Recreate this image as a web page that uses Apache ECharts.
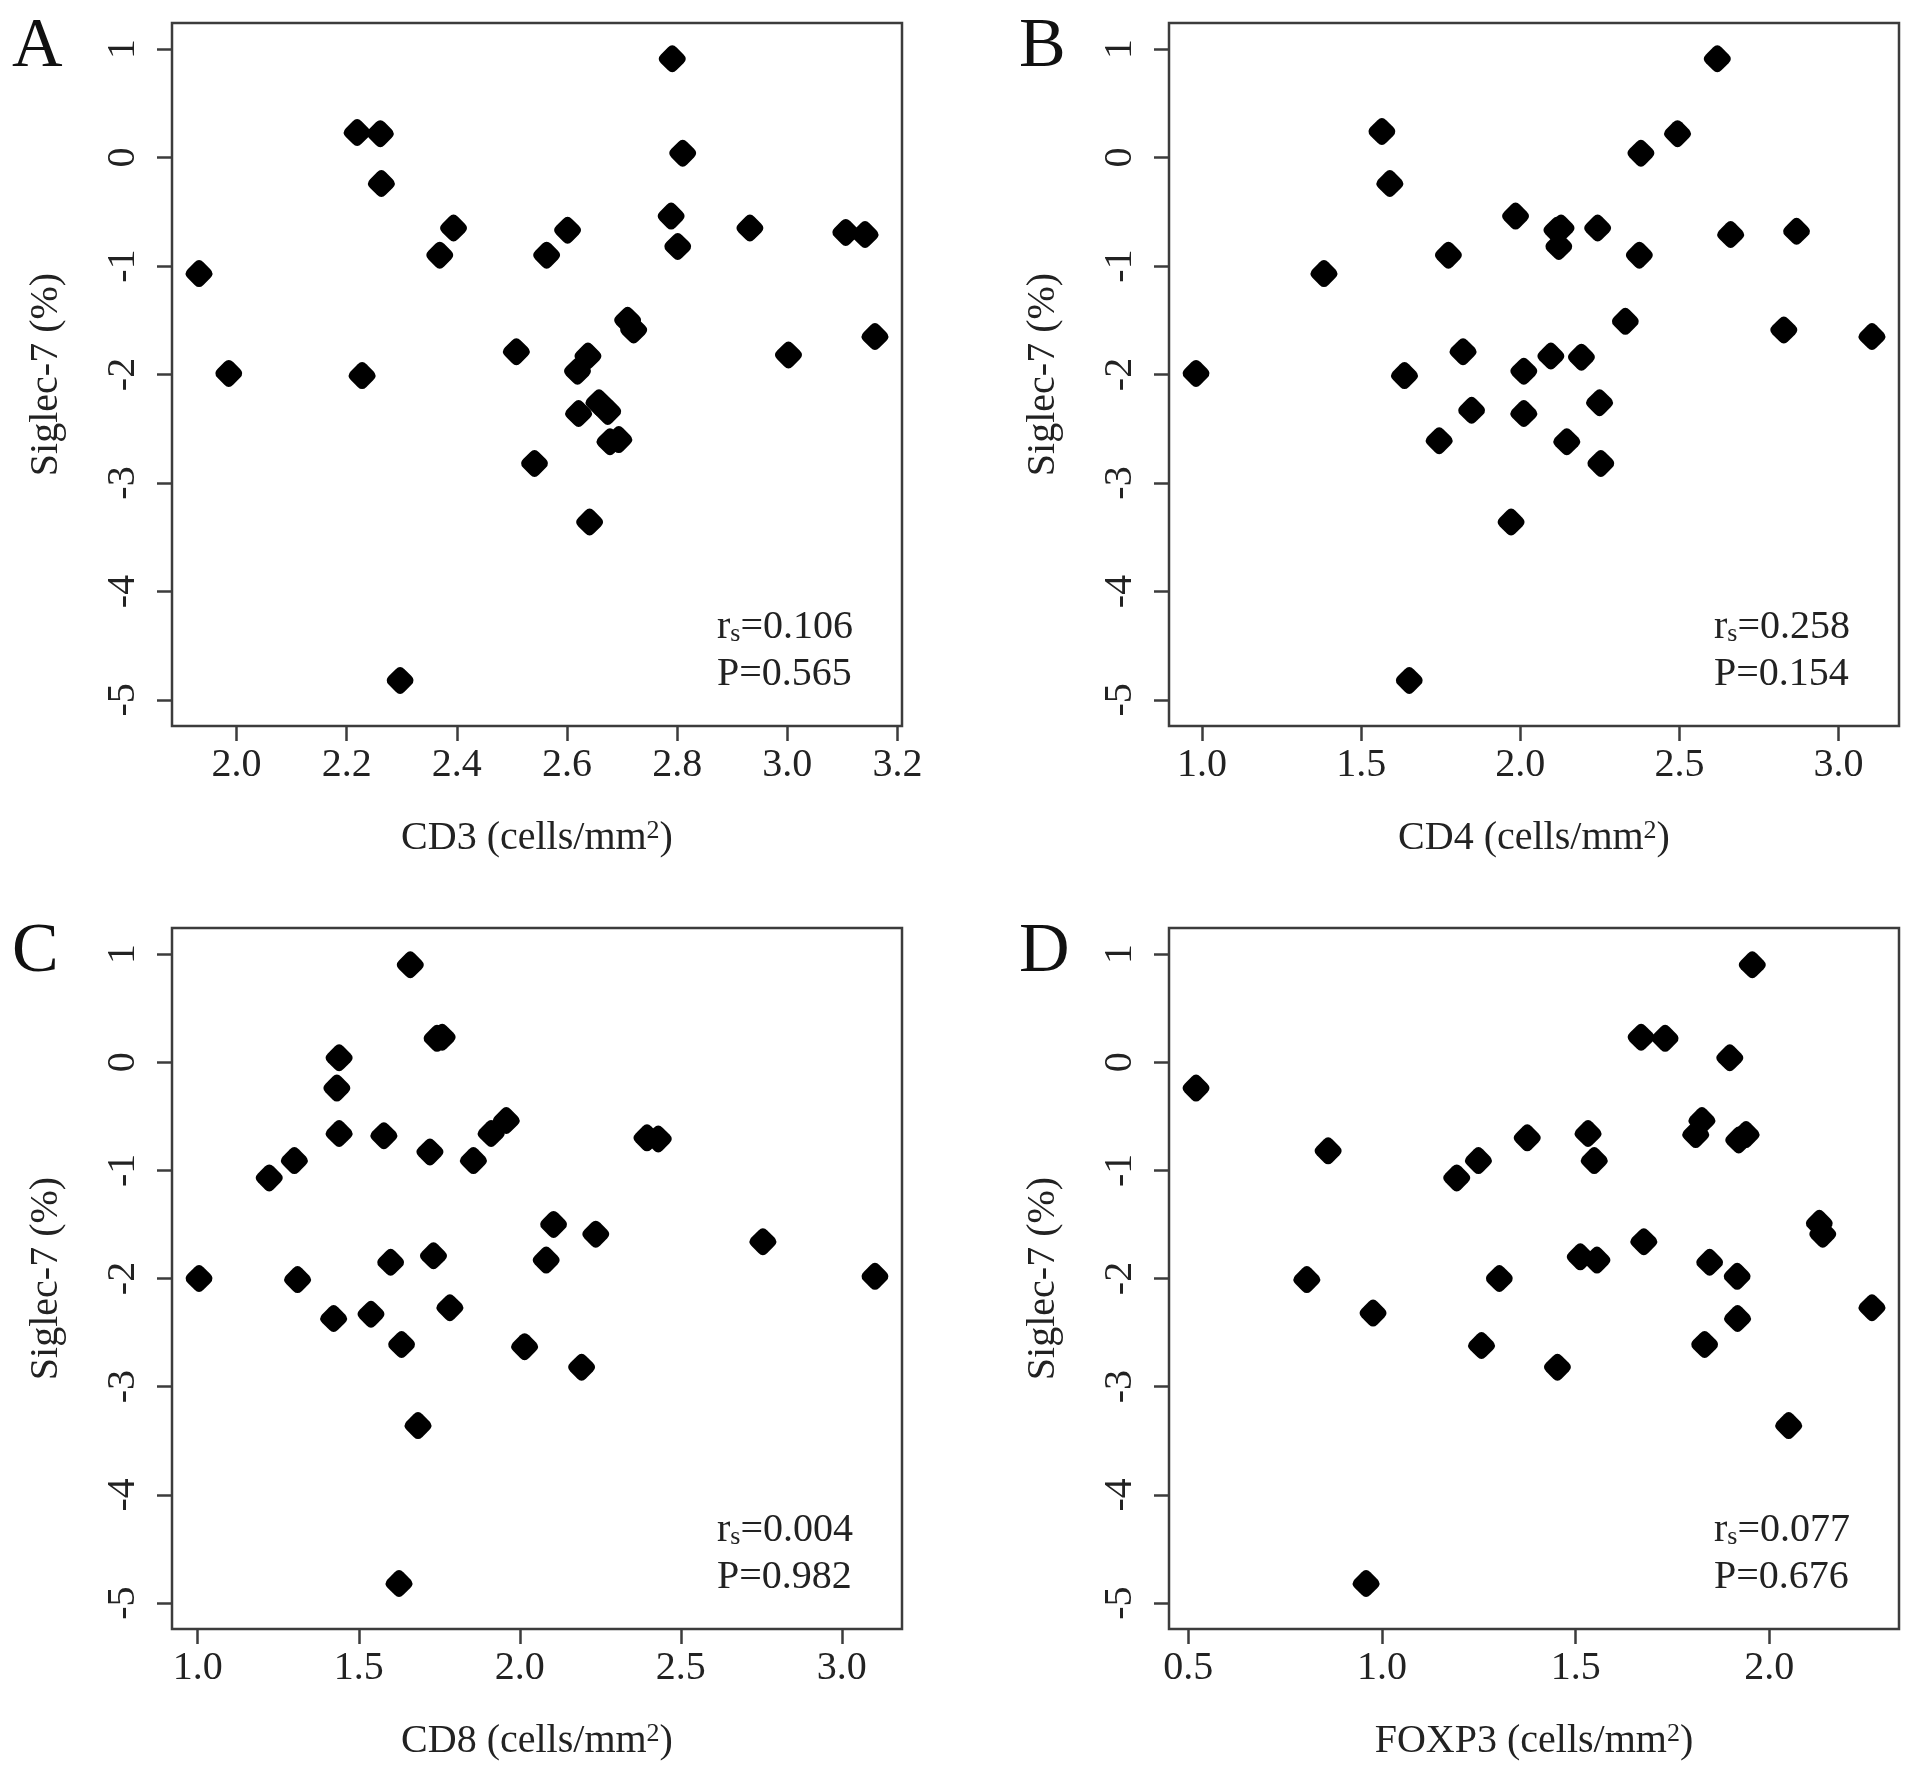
<!DOCTYPE html>
<html>
<head>
<meta charset="utf-8">
<script src="https://cdn.jsdelivr.net/npm/echarts@6/dist/echarts.min.js"></script>
<style>
  html, body { margin: 0; padding: 0; background: #fff; }
  #chart { width: 1913px; height: 1774px; }
</style>
</head>
<body>
<div id="chart"></div>
<script>
// panel A: CD3
var cd3X = [1.932, 1.986, 2.219, 2.261, 2.263, 2.228, 2.297, 2.369, 2.394, 2.508, 2.541, 2.563, 2.601, 2.619, 2.638, 2.621,
            2.641, 2.658, 2.674, 2.678, 2.694, 2.710, 2.721, 2.791, 2.810, 2.789, 2.801, 2.932, 3.002, 3.106, 3.141, 3.159];
var cd3Y = [-1.07, -1.99, 0.23, 0.22, -0.24, -2.01, -4.82, -0.90, -0.65, -1.79, -2.82, -0.90, -0.67, -1.97, -1.83, -2.36,
            -3.36, -2.26, -2.34, -2.62, -2.60, -1.50, -1.59, 0.91, 0.04, -0.54, -0.82, -0.65, -1.82, -0.69, -0.71, -1.65];
// panel B: CD4
var cd4X = [0.981, 1.383, 1.565, 1.590, 1.636, 1.651, 1.745, 1.774, 1.820, 1.847, 1.971, 1.985, 2.011, 2.011, 2.096, 2.115,
            2.128, 2.121, 2.146, 2.192, 2.243, 2.249, 2.253, 2.330, 2.374, 2.379, 2.494, 2.619, 2.661, 2.828, 2.868, 3.105];
var cd4Y = [-1.99, -1.07, 0.24, -0.24, -2.01, -4.82, -2.61, -0.90, -1.79, -2.33, -3.36, -0.54, -1.97, -2.36, -1.83, -0.67,
            -0.65, -0.82, -2.62, -1.84, -0.65, -2.26, -2.82, -1.51, -0.90, 0.04, 0.22, 0.91, -0.71, -1.59, -0.68, -1.65];
// panel C: CD8
var cd8X = [1.004, 1.222, 1.300, 1.310, 1.422, 1.432, 1.439, 1.439, 1.538, 1.578, 1.599, 1.633, 1.625, 1.660, 1.684, 1.721,
            1.732, 1.743, 1.759, 1.783, 1.856, 1.911, 1.958, 2.015, 2.082, 2.105, 2.192, 2.236, 2.395, 2.430, 2.755, 3.103];
var cd8Y = [-2.00, -1.07, -0.91, -2.01, -2.37, -0.24, 0.04, -0.66, -2.33, -0.68, -1.85, -2.61, -4.82, 0.90, -3.36, -0.83,
            -1.79, 0.22, 0.23, -2.27, -0.91, -0.66, -0.54, -2.63, -1.83, -1.50, -2.82, -1.59, -0.70, -0.71, -1.66, -1.98];
// panel D: FOXP3
var foxp3X = [0.520, 0.806, 0.861, 0.977, 0.959, 1.193, 1.249, 1.257, 1.303, 1.375, 1.453, 1.512, 1.532, 1.548, 1.555, 1.669,
              1.676, 1.731, 1.810, 1.826, 1.833, 1.846, 1.898, 1.917, 1.918, 1.921, 1.940, 1.956, 2.050, 2.129, 2.138, 2.265];
var foxp3Y = [-0.24, -2.01, -0.82, -2.32, -4.82, -1.07, -0.91, -2.62, -2.00, -0.70, -2.82, -1.80, -0.66, -0.91, -1.83, 0.23,
              -1.66, 0.22, -0.67, -0.54, -2.61, -1.85, 0.04, -1.98, -2.37, -0.72, -0.67, 0.90, -3.36, -1.49, -1.59, -2.27];

var cd3Ticks = [2.0, 2.2, 2.4, 2.6, 2.8, 3.0, 3.2];
var cd4Ticks = [1.0, 1.5, 2.0, 2.5, 3.0];
var cd8Ticks = [1.0, 1.5, 2.0, 2.5, 3.0];
var foxp3Ticks = [0.5, 1.0, 1.5, 2.0];
var yTicks = [-5, -4, -3, -2, -1, 0, 1];

var panelLetters = ['A', 'B', 'C', 'D'];
var xTitles = ['CD3', 'CD4', 'CD8', 'FOXP3'];
var rsValues = ['0.106', '0.258', '0.004', '0.077'];
var pValues = ['0.565', '0.154', '0.982', '0.676'];

var chart = echarts.init(document.getElementById('chart'));
var FONT = '"Liberation Serif", "Times New Roman", serif';
var INK = '#222';
var LINE = '#3c3c3c';
// filled diamond with soft corners, like R pch 18 after scanning
var diamond = 'path://M36,14 Q50,0 64,14 L86,36 Q100,50 86,64 L64,86 Q50,100 36,86 L14,64 Q0,50 14,36 Z';

var panels = [
    {x: cd3X, y: cd3Y, ticks: cd3Ticks, left: 172, top: 23, height: 703, letterX: 12},
    {x: cd4X, y: cd4Y, ticks: cd4Ticks, left: 1169, top: 23, height: 703, letterX: 1019},
    {x: cd8X, y: cd8Y, ticks: cd8Ticks, left: 172, top: 928, height: 701, letterX: 12},
    {x: foxp3X, y: foxp3Y, ticks: foxp3Ticks, left: 1169, top: 928, height: 701, letterX: 1019}
];
var W = 730;

var grids = [], xAxes = [], yAxes = [], series = [], graphics = [];

panels.forEach(function (p, i) {
    var lo = Math.min.apply(null, p.x), hi = Math.max.apply(null, p.x);
    var pad = (hi - lo) * 0.04;
    grids.push({
        left: p.left, top: p.top, width: W, height: p.height,
        show: true, borderColor: LINE, borderWidth: 2.5, backgroundColor: 'transparent'
    });
    xAxes.push({
        type: 'value', gridIndex: i, min: lo - pad, max: hi + pad, position: 'bottom',
        axisLine: {show: false, onZero: false},
        splitLine: {show: false},
        axisTick: {show: true, length: 15, customValues: p.ticks, lineStyle: {color: LINE, width: 2.5}},
        axisLabel: {
            customValues: p.ticks, margin: 19, fontSize: 40, fontFamily: FONT, color: INK,
            formatter: function (v) { return v.toFixed(1); }
        },
        name: xTitles[i] + ' (cells/mm{sup|2})',
        nameLocation: 'middle', nameGap: 92,
        nameTextStyle: {
            fontSize: 40, fontFamily: FONT, color: INK,
            rich: {sup: {fontSize: 26, fontFamily: FONT, color: INK, verticalAlign: 'top'}}
        }
    });
    yAxes.push({
        type: 'value', gridIndex: i, min: -5.24, max: 1.24, position: 'left',
        axisLine: {show: false, onZero: false},
        splitLine: {show: false},
        axisTick: {show: true, length: 15, customValues: yTicks, lineStyle: {color: LINE, width: 2.5}},
        axisLabel: {customValues: yTicks, rotate: 90, margin: 29, fontSize: 40, fontFamily: FONT, color: INK},
        name: 'Siglec-7 (%)',
        nameLocation: 'middle', nameGap: 106, nameRotate: 90,
        nameTextStyle: {fontSize: 40, fontFamily: FONT, color: INK}
    });
    series.push({
        type: 'scatter', xAxisIndex: i, yAxisIndex: i,
        symbol: diamond, symbolSize: 27,
        itemStyle: {color: '#000', opacity: 1},
        emphasis: {disabled: true},
        data: p.x.map(function (v, k) { return [v, p.y[k]]; })
    });

    var bottom = p.top + p.height;
    graphics.push({
        type: 'text', left: p.letterX, top: p.top - 10,
        style: {text: panelLetters[i], font: '70px ' + FONT, fill: '#111'}
    });
    graphics.push({
        type: 'text', x: p.left + 545, y: bottom - 99,
        style: {
            text: '{m|r}{s|s}{m|=' + rsValues[i] + '}',
            verticalAlign: 'middle',
            rich: {
                m: {fontSize: 40, fontFamily: FONT, fill: INK, lineHeight: 40},
                s: {fontSize: 26, fontFamily: FONT, fill: INK, lineHeight: 22, verticalAlign: 'bottom'}
            }
        }
    });
    graphics.push({
        type: 'text', x: p.left + 545, y: bottom - 52,
        style: {text: 'P=' + pValues[i], font: '40px ' + FONT, fill: INK, verticalAlign: 'middle'}
    });
});

var option = {
    animation: false,
    backgroundColor: '#fff',
    grid: grids,
    xAxis: xAxes,
    yAxis: yAxes,
    series: series,
    graphic: graphics
};

option && chart.setOption(option);
window.addEventListener('resize', chart.resize);
</script>
</body>
</html>
